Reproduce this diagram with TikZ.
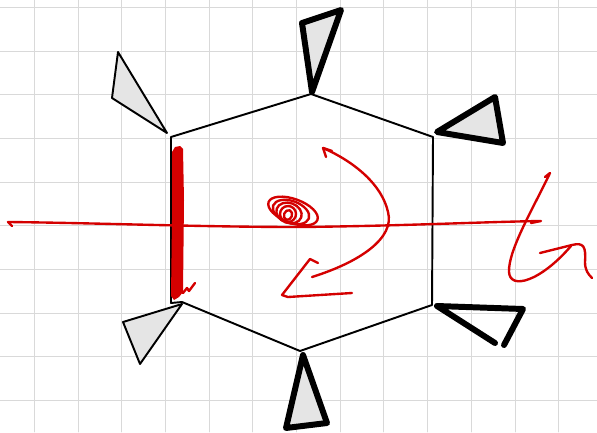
\documentclass[tikz,border=0pt]{standalone}
\usepackage{xcolor}
\usepackage{tikz}

\begin{document}
\begin{tikzpicture}[x=0.02cm, y=-0.02cm, line join=round, line cap=round]
        \colorlet{fondoT}{black!10}
        \definecolor{tinta}{HTML}{D40000}
        \tikzset{
            rejilla/.style={gray!30, line width=0.5pt},
            fino/.style={draw=black, line width=1.1pt},
            grueso/.style={draw=black, line width=3.4pt},
            rojo/.style={draw=tinta, line width=1.35pt}
        }
        \fill[white] (0,0) rectangle (597,432);
        \useasboundingbox (0,0) rectangle (597,432);
        % cuadricula
        \foreach \i in {0,...,13}
            \draw[rejilla] ({34.3+43.7*\i},0) -- ({34.3+43.7*\i},432);
        \foreach \j in {0,...,9}
            \draw[rejilla] (0,{7.3+43.7*\j}) -- (597,{7.3+43.7*\j});
        % hexagono
        \coordinate (h1) at (171,137);
        \coordinate (h2) at (311,94);
        \coordinate (h3) at (433,137);
        \coordinate (h4) at (432,305);
        \coordinate (h5) at (300,351);
        \coordinate (h6) at (182,302);
        \draw[fino] (h1) -- (h2) -- (h3) -- (h4) -- (h5) -- (h6) -- (171,303) -- cycle;
        % triangulos
        \filldraw[fino, fill=fondoT] (118,52) -- (112,98) -- (167,133) -- cycle;
        \filldraw[grueso, fill=fondoT] (302,23) -- (341,10) -- (312,92) -- cycle;
        \filldraw[grueso, fill=fondoT] (437,132) -- (495,97) -- (503,143) -- cycle;
        \draw[grueso] (495,343) -- (437,306) -- (523,309) -- (504,345);
        \filldraw[grueso, fill=fondoT] (303,355) -- (286,428) -- (327,423) -- cycle;
        \filldraw[fino, fill=fondoT] (123,322) -- (182,304) -- (140,364) -- cycle;
        % trazos rojos
        \fill[tinta] (172,152) -- (175,147) -- (180,146) -- (183,149) -- (184,200)
            -- (183,292) -- (179,297) -- (174,300) -- (171,296) -- (172,220) -- cycle;
        \draw[rojo] (183,293) -- (187,288) -- (189,291) -- (195,283);
        \draw[rojo] (12,226) -- (8,222) .. controls (100,223) and (200,227) .. (300,227)
            .. controls (400,226) and (480,222) .. (541,221) -- (531,223);
        \foreach \cx/\cy/\rx/\ry in {293/211/26/12, 291/212/19/11, 289/213/13/10, 288/214/8/8, 288/215/4/5}
            \draw[rojo, rotate around={-20:(\cx,\cy)}] (\cx,\cy) ellipse ({\rx} and {\ry});
        \draw[rojo] (312,277) .. controls (360,262) and (395,238) .. (388,212)
            .. controls (382,185) and (355,162) .. (323,148);
        \draw[rojo] (326,157) -- (323,148) -- (332,151);
        \draw[rojo] (318,263) -- (310,259) -- (282,295) -- (288,297) -- (352,293);
        \draw[rojo] (545,177) -- (550,173) .. controls (535,205) and (508,250) .. (509,272)
            .. controls (510,290) and (540,282) .. (571,246);
        \draw[rojo] (540,253) -- (572,245) .. controls (584,242) and (586,247) .. (585,262)
            .. controls (585,270) and (588,274) .. (592,278);
\end{tikzpicture}
\end{document}
